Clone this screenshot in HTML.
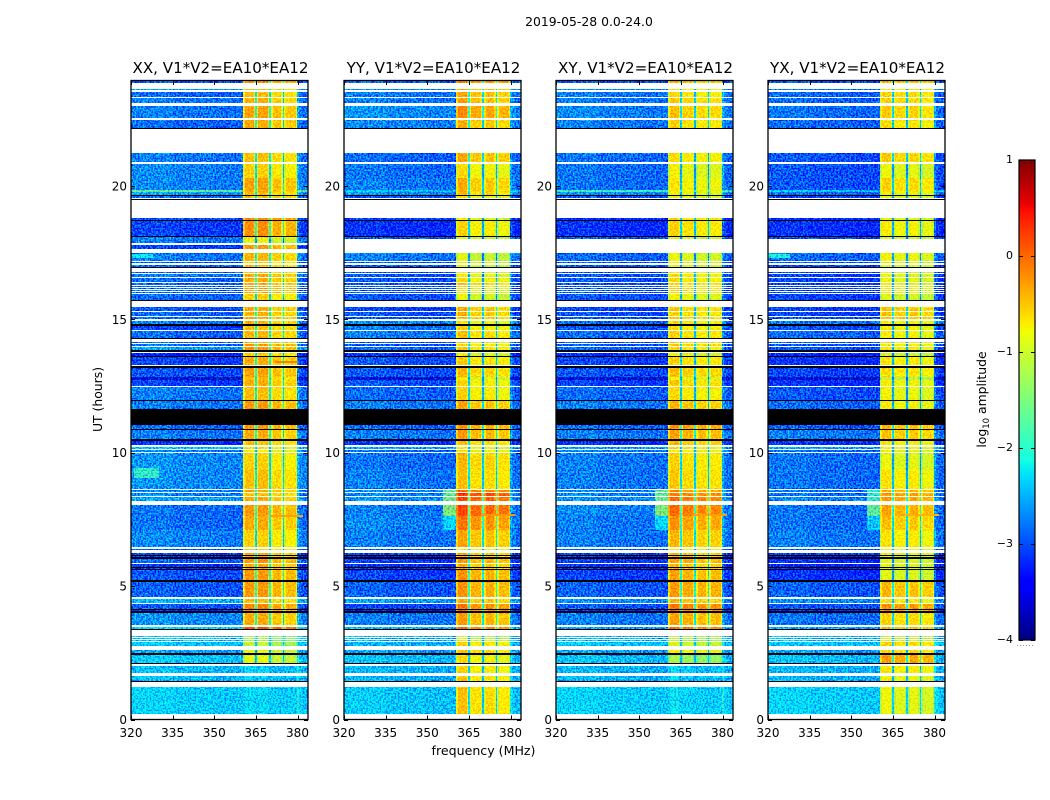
<!DOCTYPE html>
<html lang="en">
<head>
<meta charset="utf-8">
<title>2019-05-28 0.0-24.0 amplitude spectrogram</title>
<style>
html,body{margin:0;padding:0;background:#fff;}
svg{display:block;font-family:"DejaVu Sans","Liberation Sans",sans-serif;fill:#000;}
</style>
</head>
<body>
<svg id="fig" xmlns="http://www.w3.org/2000/svg" width="1050" height="800" viewBox="0 0 1050 800">
<defs>
<filter id="grainStrong" x="0" y="0" width="1" height="1" color-interpolation-filters="sRGB">
<feTurbulence type="fractalNoise" baseFrequency="0.6" numOctaves="1" seed="3" result="n"/>
<feColorMatrix in="n" type="matrix" values="0 0 0 0 0.5  3.4 0 0 0 -1.2  0 0 0 0 0.5  0 0 0 0 1" result="g"/>
<feComposite in="SourceGraphic" in2="g" operator="arithmetic" k1="0" k2="1" k3="0.7" k4="-0.35" result="m"/>
<feComposite in="m" in2="SourceAlpha" operator="in"/>
</filter>
<filter id="grainWeak" x="0" y="0" width="1" height="1" color-interpolation-filters="sRGB">
<feTurbulence type="fractalNoise" baseFrequency="0.6" numOctaves="1" seed="8" result="n"/>
<feColorMatrix in="n" type="matrix" values="0 0 0 0 0.5  3.4 0 0 0 -1.2  0 0 0 0 0.5  0 0 0 0 1" result="g"/>
<feComposite in="SourceGraphic" in2="g" operator="arithmetic" k1="0" k2="1" k3="0.3" k4="-0.15" result="m"/>
<feComposite in="m" in2="SourceAlpha" operator="in"/>
</filter>
</defs>
<text x="589" y="26" font-size="12.4" text-anchor="middle">2019-05-28 0.0-24.0</text>
<text x="0" y="0" font-size="12.4" text-anchor="middle" transform="translate(102,399.5) rotate(-90)">UT (hours)</text>
<text x="483.5" y="755" font-size="12.6" text-anchor="middle">frequency (MHz)</text>
<text x="0" y="0" font-size="12.4" text-anchor="middle" transform="translate(986,399.5) rotate(-90)">log<tspan font-size="8.5" dy="3">10</tspan><tspan dy="-3"> amplitude</tspan></text>
<g id="panels"></g>
<g id="cbar"></g>
</svg>
<script>
// ---- chart data (hours, MHz, log10 amplitude) ----
const polarizations = ['XX','YY','XY','YX'];
const baselineLabel = 'V1*V2=EA10*EA12';
const xTicks = [320,335,350,365,380];
const yTicks = [0,5,10,15,20];
const colorTicks = [1,0,-1,-2,-3,-4];
const colorTickLabels = ['1','0','\u22121','\u22122','\u22123','\u22124'];

// time bands holding data; anything not covered stays blank (flagged)
const bandStart = [
23.93,23.63,23.53,23.29,22.99,22.47,
21.23,20.82,20.30,19.96,19.85,19.78,19.63,
18.81,18.70,18.07,18.02,17.78,17.50,17.15,17.03,
16.76,16.70,16.54,16.36,16.26,16.18,16.11,16.03,15.96,
15.45,15.26,15.09,14.95,14.76,14.56,14.16,14.07,13.97,13.74,13.60,13.19,12.85,12.72,12.46,11.94,
11.04,10.84,10.43,10.21,10.10,
9.98,9.35,8.60,8.48,8.34,8.03,7.63,7.10,6.40,6.23,
6.13,6.03,5.83,5.68,5.60,5.16,4.50,4.33,4.11,3.99,3.48,
3.13,3.05,2.98,2.89,2.60,2.43,2.02,1.63,1.21];
const bandEnd = [
23.85,23.58,23.34,23.12,22.54,22.18,
20.88,20.30,19.96,19.85,19.78,19.66,19.55,
18.73,18.11,18.02,17.85,17.63,17.20,17.10,16.95,
16.72,16.58,16.41,16.30,16.22,16.15,16.07,16.00,15.74,
15.31,15.13,15.00,14.81,14.60,14.31,14.12,14.01,13.84,13.63,13.29,12.85,12.72,12.50,11.97,11.63,
10.88,10.51,10.29,10.15,10.04,
9.35,8.65,8.53,8.38,8.18,7.63,7.10,6.45,6.36,6.17,
6.08,5.88,5.72,5.64,5.23,4.58,4.37,4.15,4.06,3.53,3.40,
3.09,3.02,2.93,2.77,2.48,2.11,1.75,1.43,0.22];

// fully dark (zero-amplitude) time bands
const darkStart = [22.18,19.66,19.51,18.73,18.11,16.95,15.74,14.81,14.31,13.84,13.63,13.25,11.97,11.63,10.88,10.51,6.17,6.08,5.72,5.64,5.23,4.15,4.06,3.40,2.48,2.11,1.43];
const darkEnd   = [22.12,19.63,19.46,18.70,18.07,16.91,15.71,14.76,14.27,13.78,13.60,13.19,11.94,11.04,10.84,10.43,6.13,6.03,5.68,5.60,5.16,4.11,3.99,3.37,2.43,2.08,1.39];

// per-band level below 360 MHz and inside the bright 360-380 MHz passband
const xxLow = [
-3.0,-2.6,-2.9,-2.8,-2.8,-2.9,
-2.8,-2.75,-2.75,-2.75,-1.7,-2.6,-2.9,
-3.0,-3.1,-2.8,-2.8,-3.1,-2.8,-3.0,-2.9,
-2.9,-2.8,-2.9,-2.9,-2.9,-2.9,-2.9,-2.9,-2.9,
-3.0,-2.9,-2.9,-2.8,-3.1,-2.9,-2.9,-2.9,-2.6,-3.3,-3.1,-3.0,-3.7,-3.1,-2.8,-2.8,
-2.9,-2.8,-3.2,-2.4,-2.8,
-2.7,-2.7,-2.75,-2.75,-2.6,-2.85,-2.85,-2.75,-3.0,-3.1,
-3.2,-2.9,-3.2,-3.2,-3.0,-2.95,-2.5,-3.0,-3.2,-2.7,-2.3,
-2.4,-2.4,-2.4,-2.4,-2.6,-2.4,-2.45,-2.45,-2.35];
const xxHigh = [
-0.25,-0.5,-0.5,-0.45,-0.35,-0.4,
-0.5,-0.6,-0.35,-0.35,-0.4,-0.5,-0.5,
-0.2,-0.25,-0.7,-0.9,-0.3,-0.45,-0.6,-0.5,
-0.5,-0.4,-0.4,-0.4,-0.35,-0.35,-0.35,-0.4,-0.6,
-0.4,-0.45,-0.4,-0.45,-0.5,-0.45,-0.4,-0.3,-0.3,-0.6,-0.4,-0.35,-0.5,-0.4,-0.5,-0.3,
-0.3,-0.4,-0.5,-0.7,-0.8,
-0.6,-0.5,-0.4,-0.5,-0.4,-0.3,-0.4,-0.6,-0.6,-0.4,
-0.4,-0.3,-0.4,-0.4,-0.3,-0.3,-0.5,-0.2,-0.2,-0.4,0.1,
-1.2,-1.3,-1.3,-1.1,-0.9,-0.9,-2.35,-2.35,-2.3];
const yyLow = [
-2.9,-2.7,-2.8,-2.8,-2.7,-2.75,
-2.9,-2.85,-2.8,-2.8,-2.4,-2.7,-3.0,
-3.1,-3.2,-3.0,null,null,-2.8,-3.0,-3.0,
-3.0,-3.0,-3.0,-3.0,-3.0,-3.0,-3.0,-3.0,-3.0,
-3.1,-3.0,-3.0,-2.7,-2.8,-2.8,-3.0,-3.0,-2.9,-3.2,-3.0,-3.0,-3.7,-3.0,-2.9,-2.8,
-2.9,-2.8,-3.2,-2.6,-2.9,
-2.85,-2.8,-2.75,-2.75,-2.7,-2.8,-2.75,-2.8,-3.0,-3.1,
-3.3,-3.1,-3.2,-3.2,-3.1,-2.95,-2.6,-3.1,-3.3,-2.8,-2.5,
-2.5,-2.5,-2.5,-2.5,-2.6,-2.45,-2.5,-2.5,-2.4];
const yyHigh = [
-0.25,-0.45,-0.45,-0.45,-0.3,-0.5,
-0.45,-0.75,-0.5,-0.5,-0.5,-0.6,-0.8,
-0.9,-0.7,-1.0,null,null,-1.0,-1.0,-1.0,
-0.85,-0.85,-0.75,-0.6,-0.75,-0.8,-0.85,-0.9,-0.95,
-0.5,-0.5,-0.55,-0.8,-0.7,-0.6,-0.7,-0.7,-0.65,-0.9,-0.65,-0.55,-0.9,-0.7,-0.7,-0.45,
-0.35,-0.4,-0.6,-0.8,-0.8,
-0.55,-0.6,-0.1,0.15,0.05,0.05,-0.2,-0.45,-0.8,-0.5,
-0.6,-0.4,-0.5,-0.5,-0.35,-0.35,-0.5,-0.2,-0.1,-0.4,-0.1,
-1.1,-1.1,-0.9,-0.7,-0.6,-0.75,-0.7,-0.65,-0.6];
const xyLow = [
-3.0,-2.7,-2.8,-2.8,-2.75,-2.8,
-2.85,-2.85,-2.85,-2.85,-1.9,-2.7,-3.0,
-3.2,-3.2,-3.0,null,null,-2.9,-3.0,-3.0,
-3.0,-3.0,-3.0,-3.0,-3.0,-3.0,-3.0,-3.0,-3.0,
-3.1,-3.0,-3.0,-2.9,-3.0,-2.9,-3.0,-3.0,-2.9,-3.2,-3.1,-3.0,-3.7,-3.1,-2.9,-2.8,
-2.9,-2.8,-3.2,-2.6,-2.8,
-2.8,-2.8,-2.75,-2.75,-2.7,-2.75,-2.8,-2.8,-3.0,-3.1,
-3.2,-3.1,-3.2,-3.2,-3.1,-2.95,-2.7,-3.0,-3.2,-2.8,-2.6,
-2.5,-2.5,-2.4,-2.4,-2.6,-2.45,-2.5,-2.5,-2.35];
const xyHigh = [
-0.5,-0.7,-0.7,-0.6,-0.55,-0.65,
-0.7,-0.85,-0.75,-0.75,-0.8,-0.85,-0.9,
-0.65,-0.65,-1.0,null,null,-0.9,-1.0,-0.9,
-0.75,-0.7,-0.7,-0.7,-0.65,-0.65,-0.65,-0.7,-0.85,
-0.6,-0.65,-0.6,-0.7,-0.7,-0.65,-0.6,-0.6,-0.7,-0.9,-0.65,-0.55,-0.9,-0.6,-0.7,-0.5,
-0.3,-0.4,-0.5,-0.7,-0.8,
-0.65,-0.6,-0.3,-0.15,-0.1,-0.1,-0.3,-0.5,-0.8,-0.5,
-0.5,-0.4,-0.5,-0.5,-0.4,-0.35,-0.5,-0.15,-0.1,-0.4,-0.1,
-1.1,-1.2,-1.2,-1.0,-0.8,-1.3,-2.35,-2.35,-2.3];
const yxLow = [
-3.0,-2.8,-2.9,-2.9,-2.85,-2.9,
-3.0,-3.0,-3.0,-3.0,-2.4,-2.9,-3.1,
-3.2,-3.2,-3.1,null,null,-2.9,-3.0,-3.1,
-3.1,-3.1,-3.1,-3.1,-3.1,-3.1,-3.1,-3.1,-3.1,
-3.1,-3.1,-3.0,-2.8,-3.0,-2.9,-3.0,-3.0,-3.0,-3.3,-3.2,-3.1,-3.7,-3.2,-3.0,-2.9,
-2.95,-2.8,-3.2,-2.6,-2.9,
-2.85,-2.85,-2.85,-2.85,-2.75,-2.85,-2.85,-2.8,-3.0,-3.1,
-3.3,-3.2,-3.3,-3.3,-3.2,-2.95,-2.7,-3.0,-3.2,-2.85,-2.6,
-2.5,-2.5,-2.4,-2.4,-2.6,-2.45,-2.5,-2.5,-2.35];
const yxHigh = [
-0.5,-0.75,-0.6,-0.6,-0.55,-0.65,
-0.55,-0.85,-0.6,-0.6,-0.65,-0.8,-0.9,
-0.9,-0.75,-1.0,null,null,-0.8,-1.0,-0.9,
-0.9,-0.85,-0.85,-0.8,-0.8,-0.8,-0.8,-0.8,-0.95,
-0.5,-0.5,-0.5,-0.75,-0.75,-0.75,-0.7,-0.7,-0.7,-1.0,-0.7,-0.65,-1.1,-0.75,-0.8,-0.75,
-0.45,-0.5,-0.7,-0.8,-0.85,
-0.85,-0.7,-0.4,-0.3,-0.3,-0.35,-0.5,-0.7,-0.8,-0.8,
-0.9,-0.9,-0.9,-0.9,-0.9,-0.45,-0.7,-0.25,-0.2,-0.6,-0.4,
-1.0,-1.0,-0.9,-0.6,-0.6,-0.3,-0.7,-0.8,-0.85];

// leak just under the passband around 8 h (band index -> log10 amplitude)
const xxShoulder = {};
const yyShoulder = {53:-1.6,54:-1.7,55:-1.6,56:-1.5,57:-2.3};
const xyShoulder = {53:-1.6,54:-1.7,55:-1.6,56:-1.5,57:-2.3};
const yxShoulder = {53:-2.0,54:-2.0,55:-2.0,56:-1.7,57:-2.4};

// frequency structure
const freqStart = [320,335,350,355.5,360.4,361.0,364.2,364.7,365.3,365.9,369.4,369.8,370.4,371,374.2,374.7,375.3,375.9,379.4,379.9,380.4,381.5];
const freqStop = 383.8;
const freqSegment = [-1,-1,-1,-1,0,0,0,0,1,1,1,1,2,2,2,2,3,3,3,-1,-1,-1];
const freqOffset = [0.06,0,-0.03,-0.03,-0.35,0,-0.3,-1.8,-0.35,0,-0.3,-1.8,-0.35,0,-0.3,-1.8,-0.35,0,-0.3,0.3,0.05,-0.05];
const xxSegments = [0.05,0.05,-0.1,-0.15];
const yySegments = [0.15,-0.05,0,-0.1];
const xySegments = [0.1,0,-0.05,-0.05];
const yxSegments = [0.05,-0.05,0,-0.1];

// narrow interference lines
const spurPanel = [0,1,2,3,0];
const spurHour = [7.66,7.70,7.70,7.70,13.45];
const spurFrom = [370,369.5,369.5,369.5,372];
const spurTo = [382,381.5,381.5,381.5,380];
const spurValue = [-0.3,-0.25,-0.3,-0.4,-0.1];

// brighter low-frequency patches
const patchPanel = [0,0,3];
const patchTop = [9.43,17.45,17.45];
const patchBottom = [9.05,17.30,17.30];
const patchFrom = [321,320,320];
const patchTo = [330,328,328];
const patchValue = [-1.95,-2.2,-2.1];

// ---- layout and scales ----
const lows = [xxLow,yyLow,xyLow,yxLow];
const highs = [xxHigh,yyHigh,xyHigh,yxHigh];
const shoulders = [xxShoulder,yyShoulder,xyShoulder,yxShoulder];
const segments = [xxSegments,yySegments,xySegments,yxSegments];
const panelLeft = [131,344,556,768];
const panelWidth = 177, panelTop = 81, panelBottom = 719.5;
const NS = 'http://www.w3.org/2000/svg';
function xScale(f, left){ return left + (f-320)*2.775; }
function yScale(h){ return 719.5 - h*26.68; }
function clamp01(v){ return Math.max(0,Math.min(1,v)); }
function jet(v){
  const t = clamp01((v+4)/5);
  function ramp(pts){ for(let i=1;i<pts.length;i++){ if(t<=pts[i][0]){ const a=pts[i-1],b=pts[i]; return a[1]+(b[1]-a[1])*(t-a[0])/(b[0]-a[0]); } } return pts[pts.length-1][1]; }
  const r = ramp([[0,0],[0.35,0],[0.66,1],[0.89,1],[1,0.5]]);
  const g = ramp([[0,0],[0.125,0],[0.375,1],[0.64,1],[0.91,0],[1,0]]);
  const b = ramp([[0,0.5],[0.11,1],[0.34,1],[0.65,0],[1,0]]);
  return 'rgb('+Math.round(r*255)+','+Math.round(g*255)+','+Math.round(b*255)+')';
}
function mk(tag, parent){ const e=document.createElementNS(NS,tag); parent.appendChild(e); return e; }
function box(e,x,y,w,h,fill){ e.setAttribute('x',x); e.setAttribute('y',y); e.setAttribute('width',w); e.setAttribute('height',h); e.setAttribute('fill',fill); e.setAttribute('shape-rendering','crispEdges'); }
function seg(e,x1,y1,x2,y2){ e.setAttribute('x1',x1); e.setAttribute('y1',y1); e.setAttribute('x2',x2); e.setAttribute('y2',y2); e.setAttribute('stroke','#000'); e.setAttribute('stroke-width','1'); e.setAttribute('shape-rendering','crispEdges'); }

function cellValue(p,b,c){
  const low = lows[p][b], high = highs[p][b];
  if(low===null || high===null) return null;
  const s = freqSegment[c];
  if(s>=0) return Math.max(low, high + segments[p][s] + freqOffset[c]);
  if(c===3 && shoulders[p][b]!==undefined) return shoulders[p][b];
  return low + freqOffset[c];
}

const panelsRoot = document.getElementById('panels');
polarizations.forEach(function(pol,p){
  const left = panelLeft[p];
  const g = mk('g',panelsRoot);
  
  

  const title = mk('text',g);
  
  
  title.setAttribute('x',left+panelWidth/2+1);
  title.setAttribute('y',73);
  title.setAttribute('font-size','15.1');
  title.setAttribute('text-anchor','middle');
  title.textContent = pol+', '+baselineLabel;

  const soft = mk('g',g);
  
  
  soft.setAttribute('filter','url(#grainStrong)');
  const pass = mk('g',g);
  
  
  pass.setAttribute('filter','url(#grainWeak)');

  bandStart.forEach(function(h0,b){
    const y0 = Math.round(yScale(h0)), y1 = Math.round(yScale(bandEnd[b]));
    const quiet = highs[p][b]!==null && highs[p][b] < -1.8;
    freqStart.forEach(function(f,c){
      const v = cellValue(p,b,c);
      if(v===null) return;
      const fEnd = c+1<freqStart.length ? freqStart[c+1] : freqStop;
      const x0 = Math.round(xScale(f,left)), x1 = Math.round(xScale(fEnd,left));
      const r = mk('rect', (freqSegment[c]>=0 && !quiet) ? pass : soft);
      
      
      box(r,x0,y0,Math.max(1,x1-x0),Math.max(1,y1-y0),jet(v));
    });
  });

  patchTop.forEach(function(h,i){
    if(patchPanel[i]!==p) return;
    const r = mk('rect',soft);
    
    
    const x0 = Math.round(xScale(patchFrom[i],left));
    const y0 = Math.round(yScale(h));
    box(r,x0,y0,Math.round(xScale(patchTo[i],left))-x0,Math.round(yScale(patchBottom[i]))-y0,jet(patchValue[i]));
  });

  spurHour.forEach(function(h,i){
    if(spurPanel[i]!==p) return;
    const r = mk('rect',g);
    
    
    const x0 = Math.round(xScale(spurFrom[i],left));
    box(r,x0,Math.round(yScale(h)),Math.round(xScale(spurTo[i],left))-x0,2,jet(spurValue[i]));
  });

  darkStart.forEach(function(h,i){
    const r = mk('rect',g);
    
    
    const y0 = Math.round(yScale(h));
    box(r,left,y0,panelWidth,Math.max(1,Math.round(yScale(darkEnd[i]))-y0),'#000');
  });

  const frame = mk('rect',g);
  
  
  frame.setAttribute('x',left);
  frame.setAttribute('y',panelTop-0.5);
  frame.setAttribute('width',panelWidth);
  frame.setAttribute('height',panelBottom-panelTop+0.5);
  frame.setAttribute('fill','none');
  frame.setAttribute('stroke','#000');
  frame.setAttribute('stroke-width','1.3');

  xTicks.forEach(function(f){
    const x = Math.round(xScale(f,left))+0.5;
    const t1 = mk('line',g);
    
    
    seg(t1,x,panelBottom,x,panelBottom-4);
    const t2 = mk('line',g);
    
    
    seg(t2,x,panelTop,x,panelTop+4);
    const l = mk('text',g);
    
    
    l.setAttribute('x',xScale(f,left));
    l.setAttribute('y',737);
    l.setAttribute('font-size','12');
    l.setAttribute('text-anchor','middle');
    l.textContent = f;
  });
  yTicks.forEach(function(h){
    const y = Math.round(yScale(h))+0.5;
    const t1 = mk('line',g);
    
    
    seg(t1,left,y,left+4,y);
    const t2 = mk('line',g);
    
    
    seg(t2,left+panelWidth,y,left+panelWidth-4,y);
    const l = mk('text',g);
    
    
    l.setAttribute('x',left-4);
    l.setAttribute('y',yScale(h)+4.5);
    l.setAttribute('font-size','12');
    l.setAttribute('text-anchor','end');
    l.textContent = h;
  });
});

// ---- colour bar ----
const cbar = document.getElementById('cbar');
const barLeft = 1019, barWidth = 16, barTop = 160, barBottom = 640;
function barY(v){ return barBottom - (v+4)*(barBottom-barTop)/5; }
for(let py=barTop; py<barBottom; py+=2){
  const r = mk('rect',cbar);
  
  
  const v = -4 + (barBottom-py-1)*5/(barBottom-barTop);
  box(r,barLeft,py,barWidth,2,jet(v));
}
const barFrame = mk('rect',cbar);


barFrame.setAttribute('x',barLeft);
barFrame.setAttribute('y',barTop);
barFrame.setAttribute('width',barWidth);
barFrame.setAttribute('height',barBottom-barTop);
barFrame.setAttribute('fill','none');
barFrame.setAttribute('stroke','#000');
barFrame.setAttribute('stroke-width','1.2');
colorTicks.forEach(function(v,i){
  const y = Math.round(barY(v))+0.5;
  const t1 = mk('line',cbar);
  
  
  seg(t1,barLeft,y,barLeft+4,y);
  const t2 = mk('line',cbar);
  
  
  seg(t2,barLeft+barWidth,y,barLeft+barWidth-4,y);
  const l = mk('text',cbar);
  
  
  l.setAttribute('x',1013);
  l.setAttribute('y',barY(v)+3);
  l.setAttribute('font-size','11');
  l.setAttribute('text-anchor','end');
  l.textContent = colorTickLabels[i];
});
const dots = mk('line',cbar);


dots.setAttribute('x1',1017);
dots.setAttribute('y1',645.5);
dots.setAttribute('x2',1035);
dots.setAttribute('y2',645.5);
dots.setAttribute('stroke','#999');
dots.setAttribute('stroke-width','1');
dots.setAttribute('stroke-dasharray','1 2');
</script>
</body>
</html>
